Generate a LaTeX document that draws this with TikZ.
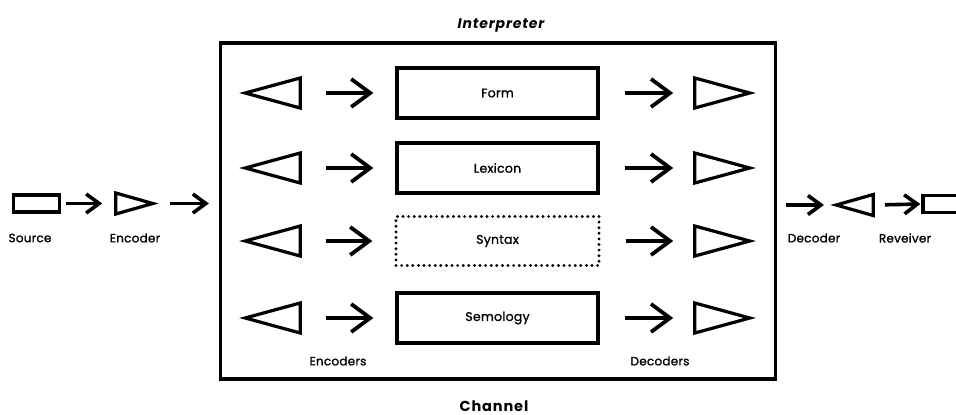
\documentclass[tikz,border=0pt]{standalone}
\usepackage{fontspec}
\setmainfont{Poppins}
\newfontfamily\lf{Poppins}[FakeBold=1.2,LetterSpace=2]
\newfontfamily\hf{Poppins}[LetterSpace=6]
\usetikzlibrary{arrows.meta,shapes.geometric}
\tikzset{
  lw/.style={line width=3.2pt},
  boxn/.style={draw,lw,minimum width=201pt,minimum height=50pt,inner sep=0pt,font=\lf\fontsize{12.5}{14}\selectfont},
  dotbox/.style={draw,line width=3.2pt,dash pattern=on 0pt off 5.6pt,line cap=round,minimum width=203pt,minimum height=49pt,inner sep=0pt,font=\lf\fontsize{12.5}{14}\selectfont},
  tri/.style={draw,lw,isosceles triangle,isosceles triangle stretches,inner sep=0pt,line join=miter},
  bigtri/.style={tri,minimum width=30pt,minimum height=55pt},
  smalltri/.style={tri,minimum width=21pt,minimum height=37pt},
  arr/.style={line width=3.8pt,-{Straight Barb[length=19pt,width=28pt,line width=3.8pt]}},
  sarr/.style={line width=3.6pt,-{Straight Barb[length=13pt,width=19pt,line width=3.6pt]}},
  lbl/.style={font=\lf\fontsize{12}{14}\selectfont},
  smallbox/.style={draw,lw,minimum width=46pt,minimum height=17pt,inner sep=0pt},
}
\begin{document}
\begin{tikzpicture}[x=1pt,y=-1pt]
\useasboundingbox (0,0) rectangle (956,415);
% interpreter / channel box
\node[draw,lw,minimum width=555pt,minimum height=336pt,inner sep=0pt] (chan) at (498,211) {};
\node[font=\hf\bfseries\itshape\fontsize{14}{16}\selectfont] (interp) at (501,25) {Interpreter};
\node[font=\hf\bfseries\fontsize{14.5}{16}\selectfont] (chanl) at (494,406) {Channel};
% rows
\foreach \y/\n/\t/\s in {93/a/Form/boxn,168/b/Lexicon/boxn,241/c/Syntax/dotbox,318/d/Semology/boxn}{
  \node[\s] (box\n) at (497.5,\y) {\t};
  \node[bigtri,shape border rotate=180,anchor=apex] (enc\n) at (241,\y) {};
  \node[bigtri,anchor=apex] (dec\n) at (754,\y) {};
  \draw[arr,shorten <=24pt,shorten >=22pt] (enc\n.east) -- (box\n.west);
  \draw[arr,shorten <=25pt,shorten >=20pt] (box\n.east) -- (dec\n.west);
}
\node[lbl] (encl) at (338,361) {Encoders};
\node[lbl] (decl) at (660,361) {Decoders};
% left outside
\node[smallbox] (src) at (36.5,203.5) {};
\node[smalltri,anchor=apex] (enc) at (157,203.5) {};
\draw[sarr,shorten <=5pt,shorten >=12pt] (src.east) -- (enc.west);
\draw[sarr,shorten <=13pt,shorten >=10pt] (enc.east) -- (chan.west |- enc.east);
\node[lbl] (srcl) at (30,238) {Source};
\node[lbl] (encol) at (135,238) {Encoder};
% right outside
\node[smalltri,shape border rotate=180,anchor=apex] (dec) at (832,205) {};
\node[smallbox] (rcv) at (946,204) {};
\draw[sarr,shorten <=9pt,shorten >=8pt] (chan.east |- dec.west) -- (dec.west);
\draw[sarr,shorten <=10pt,shorten >=1pt] (dec.east) -- (rcv.west);
\node[lbl] (decol) at (814,238) {Decoder};
\node[lbl] (rcvl) at (905,238) {Reveiver};
\end{tikzpicture}
\end{document}
